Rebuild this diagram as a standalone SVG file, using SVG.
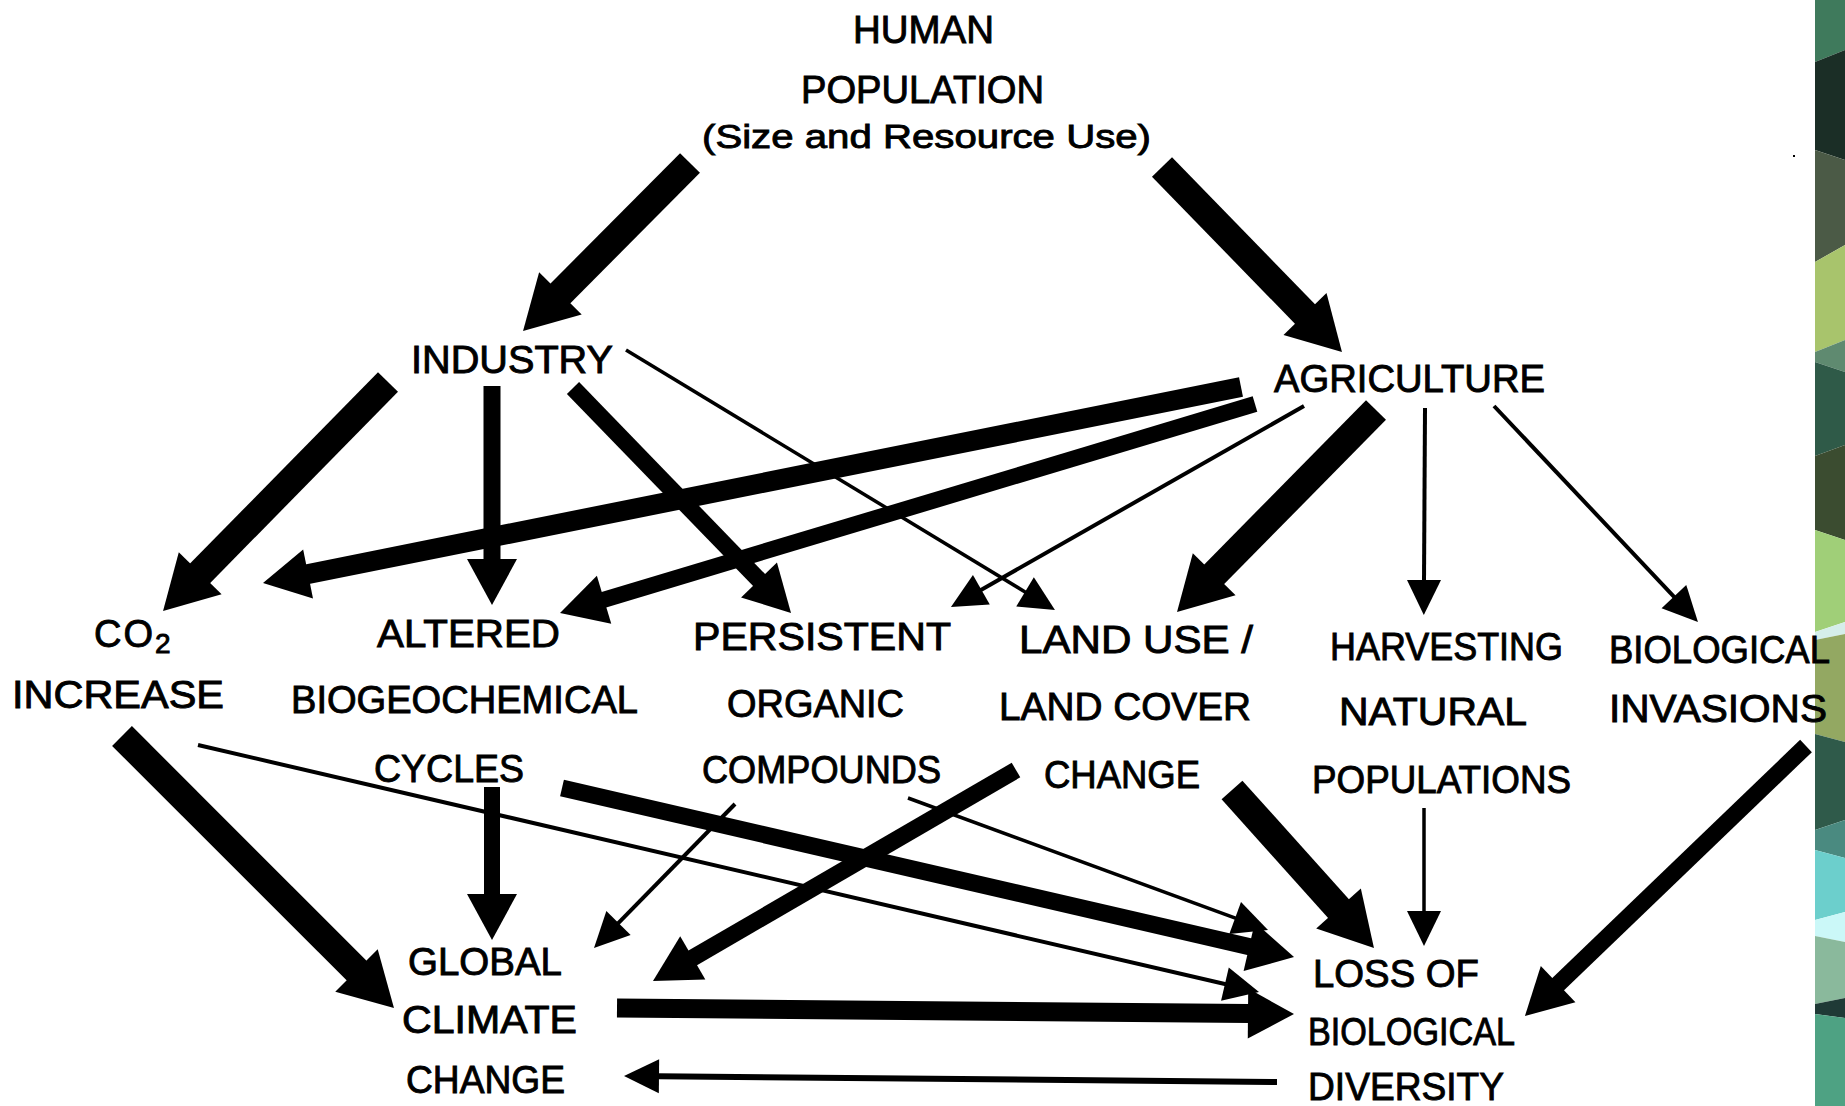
<svg xmlns="http://www.w3.org/2000/svg" width="1845" height="1106" viewBox="0 0 1845 1106">
<style>
text{font-family:"Liberation Sans",Arial,sans-serif;font-size:38px;fill:#000;stroke:#000;stroke-width:0.9px}
.t{stroke:#000;stroke-linecap:butt;fill:none}
.k{stroke-width:28px;marker-end:url(#hK)}
.m{stroke-width:17px;marker-end:url(#hM)}
.n{stroke-width:4px;marker-end:url(#hN)}
</style>
<defs>
<marker id="hK" markerUnits="userSpaceOnUse" markerWidth="10" markerHeight="10" refX="0" refY="0" orient="auto" overflow="visible"><path d="M-1,-30 L52,0 L-1,30 Z" fill="#000"/></marker>
<marker id="hM" markerUnits="userSpaceOnUse" markerWidth="10" markerHeight="10" refX="0" refY="0" orient="auto" overflow="visible"><path d="M-1,-25 L45,0 L-1,25 Z" fill="#000"/></marker>
<marker id="hN" markerUnits="userSpaceOnUse" markerWidth="10" markerHeight="10" refX="0" refY="0" orient="auto" overflow="visible"><path d="M-1,-17 L34,0 L-1,17 Z" fill="#000"/></marker>
</defs>
<rect width="1845" height="1106" fill="#fff"/>
<g id="strip">
<polygon points="1815,0 1845,0 1845,50 1815,62" fill="#3f7a5c"/>
<polygon points="1815,62 1845,50 1845,160 1815,150" fill="#1b2e26"/>
<polygon points="1815,150 1845,160 1845,245 1815,262" fill="#4b5a46"/>
<polygon points="1815,262 1845,245 1845,340 1815,352" fill="#a8c46c"/>
<polygon points="1815,352 1845,340 1845,372 1815,362" fill="#5f8a70"/>
<polygon points="1815,362 1845,372 1845,445 1815,456" fill="#2f5a48"/>
<polygon points="1815,456 1845,445 1845,540 1815,530" fill="#3b4c30"/>
<polygon points="1815,530 1845,540 1845,622 1815,632" fill="#a0cf78"/>
<polygon points="1815,632 1845,622 1845,634 1815,640" fill="#d5eeea"/>
<polygon points="1815,640 1845,634 1845,742 1815,734" fill="#93a862"/>
<polygon points="1815,734 1845,742 1845,820 1815,830" fill="#2f5a4a"/>
<polygon points="1815,830 1845,820 1845,858 1815,850" fill="#4a8a80"/>
<polygon points="1815,850 1845,858 1845,912 1815,920" fill="#6ccfcc"/>
<polygon points="1815,920 1845,912 1845,942 1815,936" fill="#cbf8f8"/>
<polygon points="1815,936 1845,942 1845,998 1815,1004" fill="#8ab99c"/>
<polygon points="1815,1004 1845,998 1845,1018 1815,1014" fill="#1f3a36"/>
<polygon points="1815,1014 1845,1018 1845,1106 1815,1106" fill="#4ea283"/>
<rect x="1793" y="155" width="2" height="2" fill="#000"/>
</g>
<g id="connectors">
<line class="t k" x1="690" y1="163" x2="559.7" y2="294.1"/>
<line class="t k" x1="1162" y1="167" x2="1305.7" y2="314.7"/>
<line class="t k" x1="388" y1="382" x2="199.5" y2="573.9"/>
<line class="t m" x1="492" y1="386" x2="492" y2="560"/>
<line class="t m" x1="573" y1="388" x2="759.7" y2="580.7"/>
<line class="t n" style="stroke-width:3.5px" x1="626" y1="350" x2="1025.9" y2="592.4"/>
<line class="t m" style="stroke-width:20px" x1="1241" y1="387" x2="307.1" y2="574.2"/>
<line class="t m" style="stroke-width:16px" x1="1255" y1="404" x2="603.1" y2="600"/>
<line class="t n" x1="1304" y1="406" x2="980.5" y2="590.2"/>
<line class="t k" x1="1376" y1="410" x2="1213.5" y2="575"/>
<line class="t n" x1="1425" y1="408" x2="1424" y2="581"/>
<line class="t n" x1="1494" y1="406" x2="1674.6" y2="597.3"/>
<line class="t k" x1="122" y1="736" x2="357.2" y2="971.2"/>
<line class="t n" x1="198" y1="745" x2="1225.9" y2="984.3"/>
<line class="t m" style="stroke-width:16px" x1="492" y1="787" x2="492" y2="895"/>
<line class="t m" x1="562" y1="788" x2="1250.2" y2="946.9"/>
<line class="t n" x1="735" y1="804" x2="617.8" y2="923.7"/>
<line class="t n" style="stroke-width:3.5px" x1="908" y1="798" x2="1236.1" y2="918.3"/>
<line class="t m" x1="1016" y1="770" x2="691.9" y2="958.4"/>
<line class="t k" x1="1232" y1="790" x2="1339.2" y2="909.3"/>
<line class="t n" style="stroke-width:3.5px" x1="1424" y1="808" x2="1424" y2="912"/>
<line class="t m" x1="1806" y1="746" x2="1557.4" y2="984.8"/>
<line class="t m" style="stroke-width:19px" x1="617" y1="1008" x2="1249" y2="1013.6"/>
<line class="t n" style="stroke-width:6px" x1="1277" y1="1082" x2="658" y2="1076.3"/>
</g>
<g id="human-population">
<text x="853" y="43" textLength="141" lengthAdjust="spacingAndGlyphs">HUMAN</text>
<text x="801" y="103" textLength="243" lengthAdjust="spacingAndGlyphs">POPULATION</text>
<text x="702" y="148" style="font-size:34px" textLength="449" lengthAdjust="spacingAndGlyphs">(Size and Resource Use)</text>
</g>
<g id="industry"><text x="411" y="373" textLength="202" lengthAdjust="spacingAndGlyphs">INDUSTRY</text></g>
<g id="agriculture"><text x="1274" y="392" textLength="271" lengthAdjust="spacingAndGlyphs">AGRICULTURE</text></g>
<g id="co2-increase">
<text x="94" y="647" letter-spacing="2">CO<tspan style="font-size:28px" dy="6">2</tspan></text>
<text x="12" y="708" textLength="212" lengthAdjust="spacingAndGlyphs">INCREASE</text>
</g>
<g id="altered-cycles">
<text x="377" y="647" textLength="183" lengthAdjust="spacingAndGlyphs">ALTERED</text>
<text x="291" y="713" textLength="347" lengthAdjust="spacingAndGlyphs">BIOGEOCHEMICAL</text>
<text x="374" y="782" textLength="150" lengthAdjust="spacingAndGlyphs">CYCLES</text>
</g>
<g id="persistent-compounds">
<text x="693" y="650" textLength="258" lengthAdjust="spacingAndGlyphs">PERSISTENT</text>
<text x="727" y="717" textLength="177" lengthAdjust="spacingAndGlyphs">ORGANIC</text>
<text x="702" y="783" textLength="239" lengthAdjust="spacingAndGlyphs">COMPOUNDS</text>
</g>
<g id="land-use">
<text x="1019" y="653" textLength="234" lengthAdjust="spacingAndGlyphs">LAND USE /</text>
<text x="999" y="720" textLength="252" lengthAdjust="spacingAndGlyphs">LAND COVER</text>
<text x="1044" y="788" textLength="156" lengthAdjust="spacingAndGlyphs">CHANGE</text>
</g>
<g id="harvesting">
<text x="1330" y="660" textLength="233" lengthAdjust="spacingAndGlyphs">HARVESTING</text>
<text x="1339" y="725" textLength="188" lengthAdjust="spacingAndGlyphs">NATURAL</text>
<text x="1312" y="793" textLength="259" lengthAdjust="spacingAndGlyphs">POPULATIONS</text>
</g>
<g id="biological-invasions">
<text x="1609" y="663" textLength="221" lengthAdjust="spacingAndGlyphs">BIOLOGICAL</text>
<text x="1609" y="722" textLength="218" lengthAdjust="spacingAndGlyphs">INVASIONS</text>
</g>
<g id="global-climate-change">
<text x="408" y="975" textLength="154" lengthAdjust="spacingAndGlyphs">GLOBAL</text>
<text x="402" y="1033" textLength="175" lengthAdjust="spacingAndGlyphs">CLIMATE</text>
<text x="406" y="1093" textLength="159" lengthAdjust="spacingAndGlyphs">CHANGE</text>
</g>
<g id="loss-biodiversity">
<text x="1313" y="987" textLength="166" lengthAdjust="spacingAndGlyphs">LOSS OF</text>
<text x="1308" y="1045" textLength="207" lengthAdjust="spacingAndGlyphs">BIOLOGICAL</text>
<text x="1308" y="1100" textLength="196" lengthAdjust="spacingAndGlyphs">DIVERSITY</text>
</g>
</svg>
